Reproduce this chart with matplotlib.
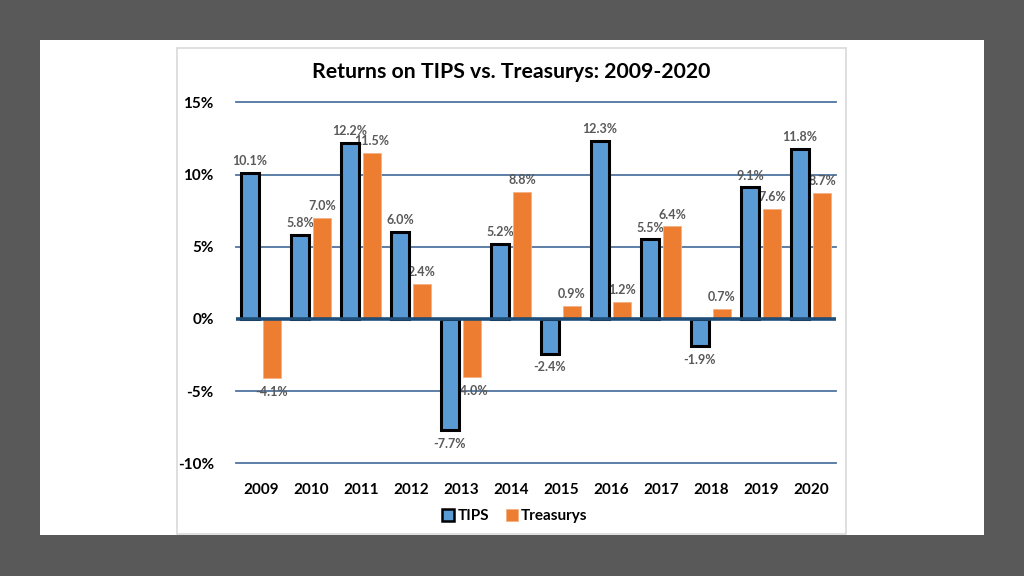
import matplotlib.pyplot as plt
from matplotlib.patches import Rectangle
from matplotlib.lines import Line2D
import numpy as np

plt.rcParams['font.family'] = ['Lato', 'DejaVu Sans']

years = ['2009', '2010', '2011', '2012', '2013', '2014',
         '2015', '2016', '2017', '2018', '2019', '2020']
tips = [10.1, 5.8, 12.2, 6.0, -7.7, 5.2, -2.4, 12.3, 5.5, -1.9, 9.1, 11.8]
treasurys = [-4.1, 7.0, 11.5, 2.4, -4.0, 8.8, 0.9, 1.2, 6.4, 0.7, 7.6, 8.7]
yticks = [-10, -5, 0, 5, 10, 15]

W, H = 1024, 576
fig = plt.figure(figsize=(W / 100, H / 100), dpi=100, facecolor='#595959')

# white slide panel and chart border
fig.patches.append(Rectangle((40 / W, 1 - 535 / H), 944 / W, 495 / H,
                             transform=fig.transFigure, facecolor='white',
                             edgecolor='none', zorder=-2))
fig.patches.append(Rectangle((177 / W, 1 - 534 / H), 669 / W, 486 / H,
                             transform=fig.transFigure, facecolor='white',
                             edgecolor='#D9D9D9', linewidth=1.2, zorder=-1))

ax = fig.add_axes([236 / W, 1 - 463.3 / H, 600 / W, 361 / H])
ax.set_zorder(2)
ax.set_facecolor('none')

x = np.arange(len(years))
bw = 0.36
off = 0.22

ax.bar(x - off, tips, bw, color='#5B9BD5', edgecolor='black',
       linewidth=2.2, zorder=3)
ax.bar(x + off, treasurys, bw, color='#ED7D31', edgecolor='#F4B183',
       linewidth=0.6, zorder=3)

# data labels (drawn under the bars like in the original)
for xs, vals in ((x - off, tips), (x + off, treasurys)):
    for xi, v in zip(xs, vals):
        dy = 8.6 if v >= 0 else -10
        ax.annotate(f'{v:.1f}%', (xi, v), xytext=(0, dy),
                    textcoords='offset points', ha='center', va='center',
                    fontsize=9, fontweight='bold', color='#595959', zorder=2)

ax.set_xlim(-0.5, len(years) - 0.5)
ax.set_ylim(-10, 15)
ax.set_yticks(yticks)
ax.set_yticklabels([f'{t}%' for t in yticks], fontsize=11, fontweight='bold')
ax.set_xticks(x)
ax.set_xticklabels(years, fontsize=11, fontweight='bold')
ax.tick_params(length=0)
ax.tick_params(axis='y', pad=16)
ax.tick_params(axis='x', pad=14)

for t in yticks:
    if t == 0:
        ax.axhline(0, color='#1F4E79', linewidth=2.6, zorder=4)
    else:
        ax.axhline(t, color='#4F75A0', linewidth=1.3, zorder=1, clip_on=False)

for s in ax.spines.values():
    s.set_visible(False)

fig.text(511 / W, 1 - 72 / H, 'Returns on TIPS vs. Treasurys: 2009-2020',
         ha='center', va='center', fontsize=15.3, fontweight='bold')

handles = [
    Line2D([], [], marker='s', linestyle='none', markersize=9,
           markerfacecolor='#5B9BD5', markeredgecolor='black', markeredgewidth=1.8),
    Line2D([], [], marker='s', linestyle='none', markersize=9,
           markerfacecolor='#ED7D31', markeredgecolor='#F4B183', markeredgewidth=0.6),
]
fig.legend(handles, ['TIPS', 'Treasurys'], loc='center',
           bbox_to_anchor=(514 / W, 1 - 516 / H), ncol=2, frameon=False,
           prop={'size': 11, 'weight': 'bold'}, handletextpad=0.1,
           columnspacing=1.0, handlelength=1.0)

fig.savefig('out.png', dpi=100, facecolor=fig.get_facecolor())
